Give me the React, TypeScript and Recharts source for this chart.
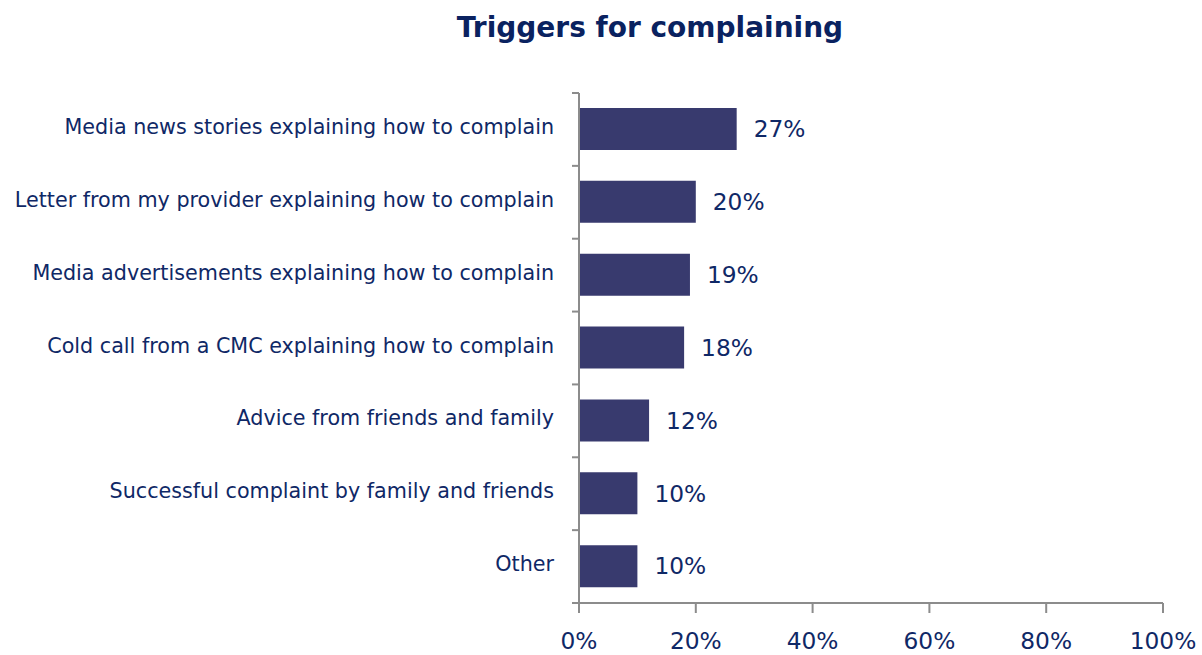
import React from "react";
import {
  BarChart,
  Bar,
  XAxis,
  YAxis,
  LabelList,
} from "recharts";

const categories = [
  "Media news stories explaining how to complain",
  "Letter from my provider explaining how to complain",
  "Media advertisements explaining how to complain",
  "Cold call from a CMC explaining how to complain",
  "Advice from friends and family",
  "Successful complaint by family and friends",
  "Other",
];
const values = [27, 20, 19, 18, 12, 10, 10];
const xTicks = [0, 20, 40, 60, 80, 100];

const data = categories.map((name, i) => ({ name, value: values[i] }));

const FONT = "'DejaVu Sans', Verdana, sans-serif";
const NAVY = "#0f2866";
const AXIS = "#8c8c8c";
const CAT_MARGIN = 25;
const EDGE_TICK = 7;

// category label plus tick marks on the band edges (Excel style)
function CategoryTick(props: any) {
  const { x, y, payload, index } = props;
  const half = payload?.offset ?? 0;
  const axisX = x + CAT_MARGIN;
  const last = index === categories.length - 1;
  return (
    <g>
      <text
        x={x}
        y={y}
        dy="0.22em"
        textAnchor="end"
        fill={NAVY}
        fontSize={20.7}
        fontFamily={FONT}
      >
        {payload.value}
      </text>
      <line
        x1={axisX - EDGE_TICK}
        x2={axisX}
        y1={y - half}
        y2={y - half}
        stroke={AXIS}
        strokeWidth={2}
      />
      {last && (
        <line
          x1={axisX - EDGE_TICK}
          x2={axisX}
          y1={y + half}
          y2={y + half}
          stroke={AXIS}
          strokeWidth={2}
        />
      )}
    </g>
  );
}

export default function App() {
  return (
    <div
      style={{
        position: "absolute",
        left: 0,
        top: 0,
        width: 1202,
        height: 655,
        background: "#fff",
        fontFamily: FONT,
      }}
    >
      <div
        style={{
          position: "absolute",
          left: 0,
          width: 1300,
          top: 8,
          textAlign: "center",
          fontSize: 28,
          fontWeight: "bold",
          lineHeight: "40px",
          color: "#0a2260",
        }}
      >
        Triggers for complaining
      </div>
      <BarChart
        width={1202}
        height={655}
        data={data}
        layout="vertical"
        margin={{ top: 93, right: 39, bottom: 0, left: 0 }}
        barSize={42}
      >
        <XAxis
          type="number"
          domain={[0, 100]}
          ticks={xTicks}
          interval={0}
          height={52}
          tickFormatter={(v) => `${v}%`}
          tick={{ fill: NAVY, fontSize: 23.3, fontFamily: FONT }}
          axisLine={{ stroke: AXIS, strokeWidth: 2 }}
          tickLine={{ stroke: AXIS, strokeWidth: 2 }}
          tickSize={10}
          tickMargin={19}
        />
        <YAxis
          type="category"
          dataKey="name"
          width={579}
          interval={0}
          tick={<CategoryTick />}
          axisLine={{ stroke: AXIS, strokeWidth: 2 }}
          tickLine={false}
          tickMargin={CAT_MARGIN}
          tickSize={0}
        />
        <Bar dataKey="value" fill="#383a6e" isAnimationActive={false}>
          <LabelList
            dataKey="value"
            position="right"
            offset={17}
            formatter={(v: any) => `${v}%`}
            style={{ fill: NAVY, fontSize: 23.3, fontFamily: FONT }}
          />
        </Bar>
      </BarChart>
    </div>
  );
}
